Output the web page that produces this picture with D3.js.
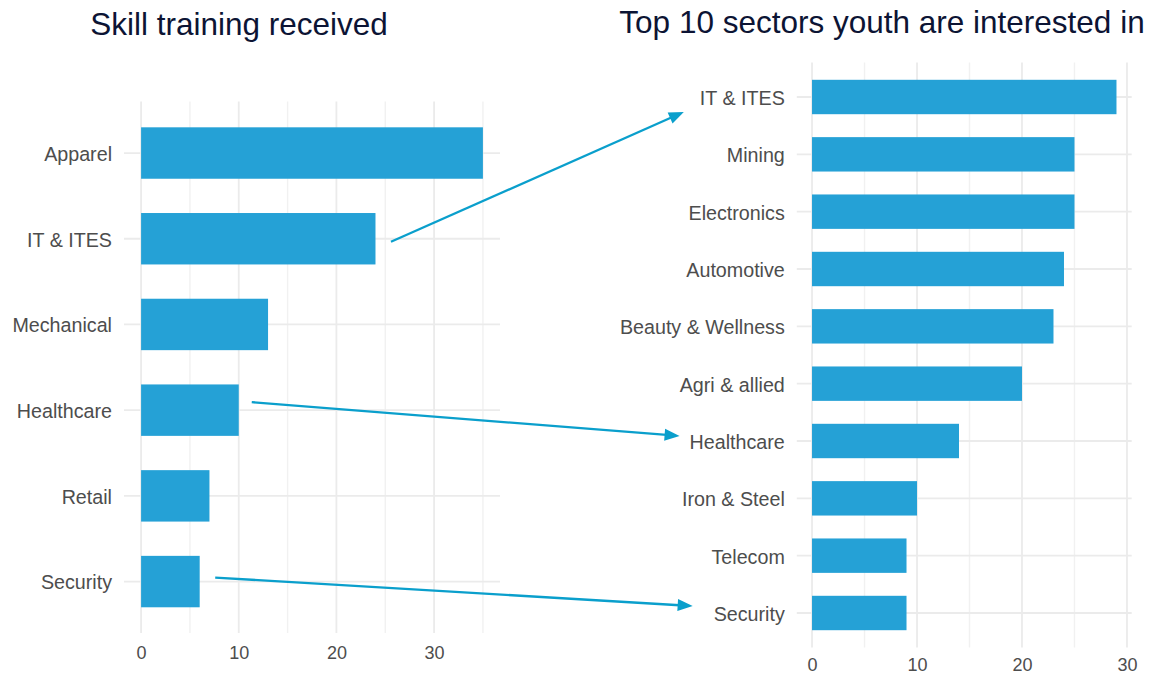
<!DOCTYPE html>
<html>
<head>
<meta charset="utf-8">
<script src="https://cdn.jsdelivr.net/npm/d3@7"></script>
<style>
  body { margin: 0; background: #ffffff; }
  text { font-family: "Liberation Sans", Arial, Helvetica, sans-serif; }
</style>
</head>
<body>
<svg id="chart" width="1153" height="675"></svg>
<script>
// Sectors in which youth received skill training (count of respondents)
const trainingSectors = ["Apparel", "IT & ITES", "Mechanical", "Healthcare", "Retail", "Security"];
const trainingValues  = [35, 24, 13, 10, 7, 6];

// Top 10 sectors youth are interested in
const interestSectors = ["IT & ITES", "Mining", "Electronics", "Automotive", "Beauty & Wellness",
                         "Agri & allied", "Healthcare", "Iron & Steel", "Telecom", "Security"];
const interestValues  = [29, 25, 25, 24, 23, 20, 14, 10, 9, 9];

const xTickValues = [0, 10, 20, 30];
const panelTitles = ["Skill training received", "Top 10 sectors youth are interested in"];

// Sectors connected by an arrow: [trained in, interested in]
const links = [["IT & ITES", "IT & ITES"], ["Healthcare", "Healthcare"], ["Security", "Security"]];

const BAR = "#25a1d6";
const ARROW = "#0a9fcc";
const GRID = "#ebebeb";
const GRID_MINOR = "#f1f1f1";
const AXIS_TEXT = "#4d4d4d";
const TITLE = "#0c1434";

const svg = d3.select("#chart");

function drawPanel(cats, vals, box) {
  const maxV = d3.max(vals);
  const pad = maxV * 0.05;
  const x = d3.scaleLinear().domain([-pad, maxV + pad]).range([box.x0, box.x1]);
  const y = d3.scaleBand().domain(cats).range([box.y0, box.y1])
              .paddingInner(0.4).paddingOuter(0.3);
  const g = svg.append("g");

  // minor vertical grid
  const minor = d3.range(5, maxV + pad, 10);
  g.selectAll("line.minor").data(minor).join("line")
    .attr("x1", d => x(d)).attr("x2", d => x(d))
    .attr("y1", box.y0).attr("y2", box.y1)
    .attr("stroke", GRID_MINOR).attr("stroke-width", 1.4);

  // major vertical grid
  g.selectAll("line.major").data(xTickValues.filter(v => v <= maxV + pad)).join("line")
    .attr("x1", d => x(d)).attr("x2", d => x(d))
    .attr("y1", box.y0).attr("y2", box.y1)
    .attr("stroke", GRID).attr("stroke-width", 1.8);

  // horizontal grid at each category
  g.selectAll("line.hgrid").data(cats).join("line")
    .attr("x1", box.x0).attr("x2", box.x1)
    .attr("y1", d => y(d) + y.bandwidth() / 2).attr("y2", d => y(d) + y.bandwidth() / 2)
    .attr("stroke", GRID).attr("stroke-width", 1.8);

  // bars
  g.selectAll("rect.bar").data(cats).join("rect")
    .attr("x", x(0))
    .attr("y", d => y(d))
    .attr("width", (d, i) => x(vals[i]) - x(0))
    .attr("height", y.bandwidth())
    .attr("fill", BAR);

  // axes
  const yAxis = g.append("g").attr("transform", `translate(${box.x0},0)`)
    .call(d3.axisLeft(y).tickSize(0).tickPadding(12));
  yAxis.select(".domain").remove();
  yAxis.selectAll("text").attr("fill", AXIS_TEXT).attr("dy", "0.4em")
    .style("font-size", "19.7px")
    .style("font-family", '"Liberation Sans", Arial, sans-serif');

  const xAxis = g.append("g").attr("transform", `translate(0,${box.y1})`)
    .call(d3.axisBottom(x).tickValues(xTickValues.filter(v => v <= maxV + pad))
      .tickSize(0).tickPadding(box.tickGap));
  xAxis.select(".domain").remove();
  xAxis.selectAll("text").attr("fill", AXIS_TEXT).style("font-size", "18px")
    .style("font-family", '"Liberation Sans", Arial, sans-serif');

  return { x, y, box, yAxis, vals, cats };
}

const left = drawPanel(trainingSectors, trainingValues,
  { x0: 124, x1: 500, y0: 101.6, y1: 633, tickGap: 13 });
const right = drawPanel(interestSectors, interestValues,
  { x0: 796.8, x1: 1131.7, y0: 62.6, y1: 647.4, tickGap: 10.5 });

// panel titles
svg.append("text").attr("x", 239).attr("y", 35).attr("text-anchor", "middle")
  .attr("fill", TITLE).style("font-size", "31.5px").text(panelTitles[0]);
svg.append("text").attr("x", 882).attr("y", 33).attr("text-anchor", "middle")
  .attr("fill", TITLE).style("font-size", "31.5px").text(panelTitles[1]);

// arrows from a trained sector's bar to the matching interest label
const arrowNudge = [
  { sx: 15.5, sy: 3,  ex: -16, ey: 15 },
  { sx: 13,   sy: -8, ex: -10, ey: -5 },
  { sx: 15.5, sy: -4, ex: -21, ey: -7 }
];
const HEAD_LEN = 15, HEAD_HALF = 6;

links.forEach(([from, to], i) => {
  const n = arrowNudge[i];
  const vi = left.cats.indexOf(from);
  const sx = left.x(left.vals[vi]) + n.sx;
  const sy = left.y(from) + left.y.bandwidth() / 2 + n.sy;

  const label = right.yAxis.selectAll(".tick").filter(d => d === to).select("text").node();
  const labelLeft = right.box.x0 - 12 - label.getComputedTextLength();
  const ex = labelLeft + n.ex;
  const ey = right.y(to) + right.y.bandwidth() / 2 + n.ey;

  const dx = ex - sx, dy = ey - sy, len = Math.hypot(dx, dy);
  const ux = dx / len, uy = dy / len;
  const bx = ex - ux * HEAD_LEN, by = ey - uy * HEAD_LEN;

  svg.append("line")
    .attr("x1", sx).attr("y1", sy).attr("x2", bx + ux * 2).attr("y2", by + uy * 2)
    .attr("stroke", ARROW).attr("stroke-width", 2.3);
  svg.append("path")
    .attr("d", `M${ex},${ey} L${bx - uy * HEAD_HALF},${by + ux * HEAD_HALF} L${bx + uy * HEAD_HALF},${by - ux * HEAD_HALF} Z`)
    .attr("fill", ARROW);
});
</script>
</body>
</html>
